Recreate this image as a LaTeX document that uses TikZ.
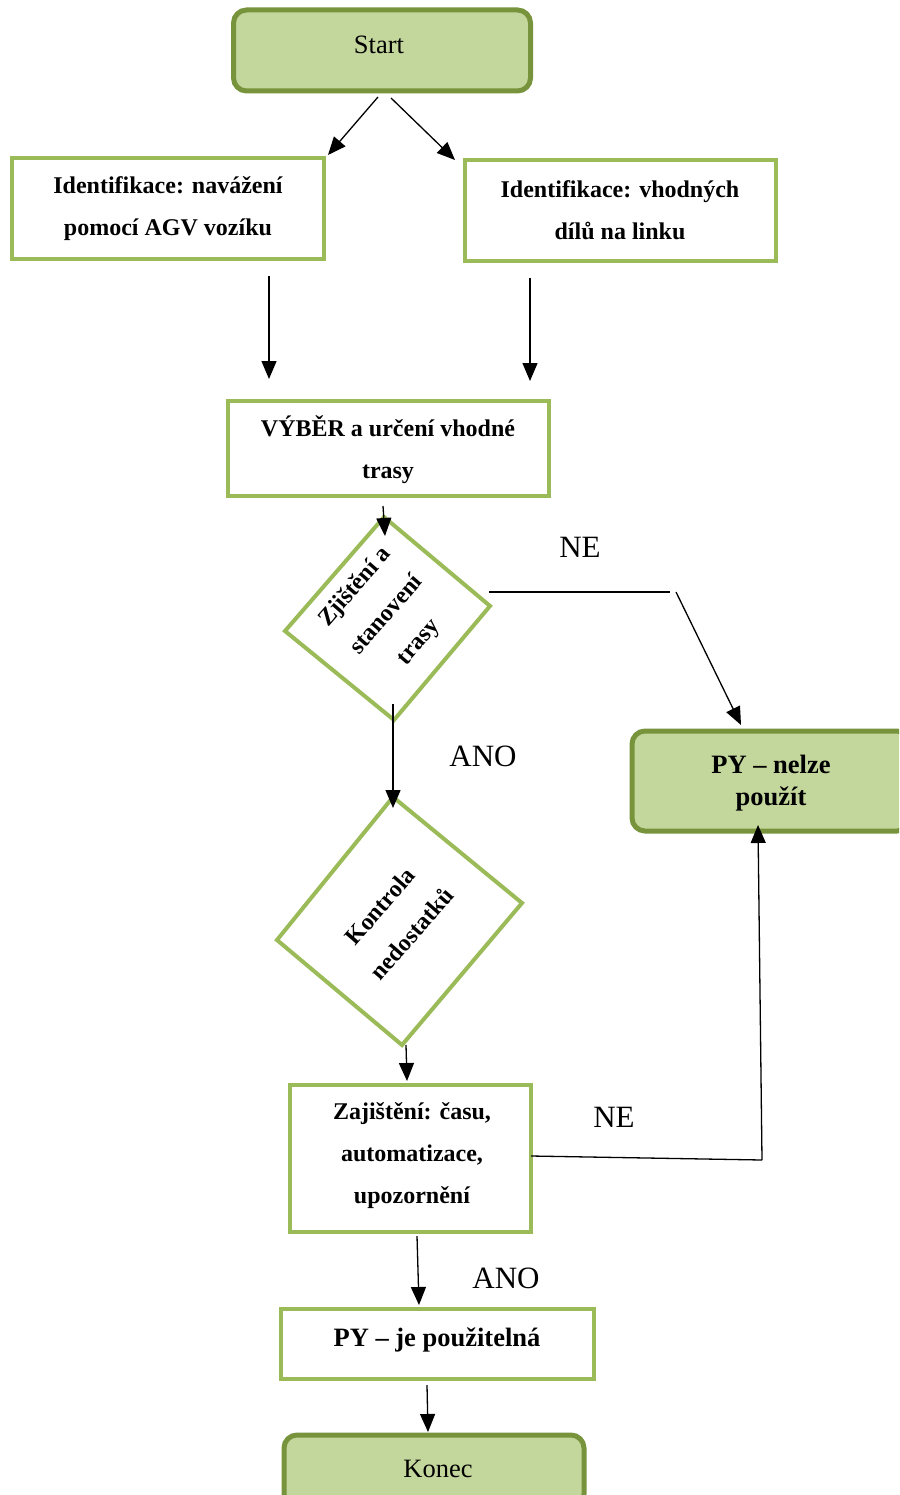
\documentclass[tikz,border=0pt]{standalone}
\usepackage{fontspec}
\setmainfont{Liberation Serif}
\usetikzlibrary{arrows.meta}
\definecolor{lgreen}{HTML}{9BBB59}
\definecolor{dgreen}{HTML}{77933C}
\definecolor{fgreen}{HTML}{C3D69B}
\tikzset{
 procbox/.style={draw=lgreen, line width=4pt, fill=white, inner sep=0pt},
 termbox/.style={draw=dgreen, line width=5pt, fill=fgreen, rounded corners=13pt, inner sep=0pt},
 btext/.style={font=\fontsize{24}{42}\selectfont\bfseries, align=center},
 ptext/.style={font=\fontsize{26.5}{30}\selectfont},
 dia/.style={draw=lgreen, line width=4pt, fill=white},
 arr/.style={-{Triangle[length=18pt,width=15pt]}, line width=1.3pt},
 ln/.style={line width=1.3pt},
 lab/.style={font=\fontsize{31}{34}\selectfont},
}
\begin{document}
\begin{tikzpicture}[x=1pt,y=-1pt]
\useasboundingbox (0,0) rectangle (899,1495);
\clip (0,0) rectangle (899,1495);
% terminals
\node[termbox, minimum width=297pt, minimum height=81pt] (start) at (382,50.5) {};
\node[ptext] (starttxt) at (379,45) {Start};
\node[procbox, minimum width=312pt, minimum height=101pt] (idA) at (168,208.5) {};
\node[btext] (idAtxt) at (168,208.5) {Identifikace: navážení\\pomocí AGV vozíku};
\node[procbox, minimum width=311pt, minimum height=101pt] (idB) at (620.5,210.5) {};
\node[btext] (idBtxt) at (620,210) {Identifikace: vhodných\\dílů na linku};
\node[procbox, minimum width=321pt, minimum height=95pt] (vyber) at (388.5,448.5) {};
\node[btext] (vybertxt) at (388,450) {VÝBĚR a určení vhodné\\trasy};
% diamond 1
\coordinate (d1t) at (384,517);
\coordinate (d1r) at (490,606);
\coordinate (d1b) at (394,720);
\coordinate (d1l) at (285,631);
\draw[dia] (d1t) -- (d1r) -- (d1b) -- (d1l) -- cycle;
\node[btext, rotate=49] (d1txt) at (387,615) {Zjištění a\\stanovení\\trasy};
% diamond 2
\coordinate (d2t) at (393,797);
\coordinate (d2r) at (522,903);
\coordinate (d2b) at (402,1045);
\coordinate (d2l) at (277,940);
\draw[dia] (d2t) -- (d2r) -- (d2b) -- (d2l) -- cycle;
\node[btext, rotate=49] (d2txt) at (396,920) {Kontrola\\nedostatků};
% PY nelze
\node[termbox, minimum width=278pt, minimum height=100pt] (nelze) at (771,781) {};
\node[font=\fontsize{26.5}{32}\selectfont\bfseries, align=center] (nelzetxt) at (771,783) {PY – nelze\\použít};
% Zajisteni
\node[procbox, minimum width=241pt, minimum height=147pt] (zaj) at (410.5,1158.5) {};
\node[btext] (zajtxt) at (412,1156) {Zajištění: času,\\automatizace,\\upozornění};
% PY je
\node[procbox, minimum width=313pt, minimum height=70pt] (pyje) at (437.5,1344) {};
\node[font=\fontsize{26.5}{30}\selectfont\bfseries] (pyjetxt) at (437,1340) {PY – je použitelná};
% Konec
\node[termbox, minimum width=300pt, minimum height=72pt] (konec) at (434,1471) {};
\node[ptext] (konectxt) at (438,1469) {Konec};
% connector coordinates
\coordinate (sa0) at (378,97);
\coordinate (sa1) at (328,155);
\coordinate (sb0) at (391,98);
\coordinate (sb1) at (455,160);
\coordinate (a0) at (269,276);
\coordinate (a1) at (269,379);
\coordinate (b0) at (530,278);
\coordinate (b1) at (530,381);
\coordinate (v0) at (383,506);
\coordinate (v1) at (385,536);
\coordinate (ne0) at (489,592);
\coordinate (ne1) at (670,592);
\coordinate (ne2) at (676,592);
\coordinate (ne3) at (741,725);
\coordinate (an0) at (393,704);
\coordinate (an1) at (393,808);
\coordinate (k0) at (406,1045);
\coordinate (k1) at (407,1081);
\coordinate (z0) at (531,1156);
\coordinate (z1) at (762,1160);
\coordinate (z2) at (758,825);
\coordinate (p0) at (417,1236);
\coordinate (p1) at (419,1305);
\coordinate (q0) at (427,1385);
\coordinate (q1) at (428,1432);
\draw[arr] (sa0) -- (sa1);
\draw[arr] (sb0) -- (sb1);
\draw[arr] (a0) -- (a1);
\draw[arr] (b0) -- (b1);
\draw[arr] (v0) -- (v1);
\draw[ln] (ne0) -- (ne1);
\draw[arr] (ne2) -- (ne3);
\draw[arr] (an0) -- (an1);
\draw[arr] (k0) -- (k1);
\draw[ln] (z0) -- (z1);
\draw[arr] (z1) -- (z2);
\draw[arr] (p0) -- (p1);
\draw[arr] (q0) -- (q1);
% labels
\node[lab] (lne1) at (580,547) {NE};
\node[lab] (lano1) at (483,756) {ANO};
\node[lab] (lne2) at (614,1117) {NE};
\node[lab] (lano2) at (506,1278) {ANO};
\end{tikzpicture}
\end{document}
